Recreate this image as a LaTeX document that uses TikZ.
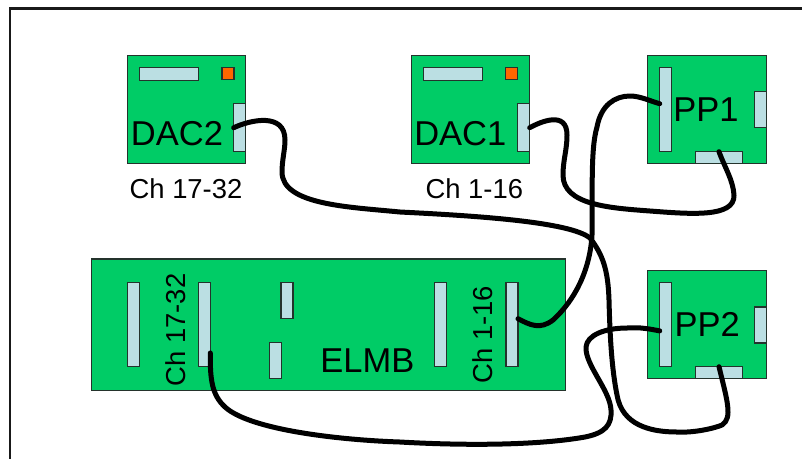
\documentclass[tikz,border=0pt]{standalone}
\usepackage{xcolor}
\usepackage{fontspec}
\setmainfont{Liberation Sans}
\definecolor{BRDgreen}{HTML}{00CC66}
\definecolor{BRDport}{HTML}{BBDFE3}
\definecolor{BRDled}{HTML}{FF6600}
\definecolor{BRDline}{HTML}{24332C}
\tikzset{
  board/.style={draw=BRDline, fill=BRDgreen, line width=1.1pt, inner sep=0pt, outer sep=0pt},
  dacbox/.style={board, minimum width=118.6pt, minimum height=108pt},
  elmbbox/.style={board, minimum width=473.6pt, minimum height=131.6pt},
  port/.style={draw=BRDline, fill=BRDport, line width=1.1pt, inner sep=0pt, outer sep=0pt},
  longport/.style={port, minimum width=12pt, minimum height=84pt},
  midport/.style={port, minimum width=12pt, minimum height=36pt},
  sideport/.style={port, minimum width=12pt, minimum height=48pt},
  topport/.style={port, minimum width=59.6pt, minimum height=12.3pt},
  lowport/.style={port, minimum width=47.4pt, minimum height=12pt},
  ledbox/.style={draw=BRDline, fill=BRDled, line width=1.1pt, inner sep=0pt, outer sep=0pt, minimum size=12pt},
  bigtext/.style={font=\fontsize{34.5}{36}\selectfont, inner sep=0pt, anchor=base},
  chtext/.style={font=\fontsize{27.4}{29}\selectfont, inner sep=0pt, anchor=base},
  cable/.style={line width=5pt, line cap=round, line join=round, black}
}

\begin{document}
\begin{tikzpicture}[x=1pt, y=-1pt]
\useasboundingbox (0,0) rectangle (802,459);
\draw[line width=2.3pt, black!90] (802,8.5) -- (9.8,8.5) -- (9.8,459);
% boards
\node[dacbox] (dactwo) at (186.5,109.8) {};
\node[dacbox] (dacone) at (470.4,109.8) {};
\node[dacbox] (ppone) at (707,109.8) {};
\node[dacbox] (pptwo) at (707,324.6) {};
\node[elmbbox] (elmb) at (328.5,324.8) {};
% ports
\node[topport] (dactwotop) at (168.9,73.9) {};
\node[ledbox] (dactwoled) at (228,73.9) {};
\node[sideport] (dactwoside) at (239.7,127.7) {};
\node[topport] (daconetop) at (452.9,73.9) {};
\node[ledbox] (daconeled) at (511.9,73.9) {};
\node[sideport] (daconeside) at (523.7,127.7) {};
\node[longport] (pponeleft) at (665.7,109.7) {};
\node[midport, minimum height=35.6pt] (pponeright) at (760.3,109.5) {};
\node[lowport] (pponelow) at (719,157.7) {};
\node[longport] (pptwoleft) at (665.7,324.9) {};
\node[midport] (pptworight) at (760.3,325) {};
\node[lowport] (pptwolow) at (719,372.7) {};
\node[longport] (elmba) at (133.3,324.7) {};
\node[longport] (elmbb) at (204.3,324.7) {};
\node[midport] (elmbc) at (287,300.8) {};
\node[midport] (elmbd) at (275.3,360.7) {};
\node[longport] (elmbe) at (440.8,324.7) {};
\node[longport] (elmbf) at (512,324.7) {};
% labels
\node[bigtext] (dactwolabel) at (177,145.7) {DAC2};
\node[bigtext] (daconelabel) at (460.3,145.7) {DAC1};
\node[bigtext] (ppx) at (706,121.7) {PP1};
\node[bigtext] (ppy) at (707.3,336.7) {PP2};
\node[bigtext] (elmblabel) at (367.4,372.7) {ELMB};
\node[chtext] (chtwo) at (186,198) {Ch 17-32};
\node[chtext] (chone) at (474.3,198) {Ch 1-16};
\node[chtext, rotate=90] (chtwoelmb) at (185.7,330) {Ch 17-32};
\node[chtext, rotate=90] (choneelmb) at (492.7,334.7) {Ch 1-16};
% cables
\draw[cable] (dactwoside.west) .. controls (250,120) and (285,112) .. (285,140)
  .. controls (285,150) and (282,160) .. (282,172)
  .. controls (282,205) and (350,207) .. (400,212)
  .. controls (480,216) and (570,222) .. (590,238)
  .. controls (603,255) and (608,270) .. (609,300)
  .. controls (610,340) and (612,370) .. (617,395)
  .. controls (622,425) and (650,432) .. (677,432)
  .. controls (695,433) and (715,428) .. (722,425)
  .. controls (733,418) and (727,400) .. (pptwolow.north);
\draw[cable] (daconeside.east) .. controls (540,122) and (567,110) .. (567,135)
  .. controls (567,150) and (563,160) .. (563,175)
  .. controls (563,205) and (610,208) .. (650,211)
  .. controls (690,214) and (735,218) .. (734,195)
  .. controls (733,180) and (725,168) .. (pponelow.north);
\draw[cable] (elmbf.45) .. controls (530,325) and (540,330) .. (553,320)
  .. controls (575,300) and (590,270) .. (592,235)
  .. controls (593,200) and (590,150) .. (597,127)
  .. controls (601,105) and (615,96) .. (630,96)
  .. controls (640,96) and (650,101) .. (pponeleft.135);
\draw[cable] (elmbb.-78) .. controls (210,380) and (212,395) .. (225,407)
  .. controls (250,430) and (340,440) .. (400,442)
  .. controls (470,446) and (540,445) .. (585,437)
  .. controls (605,433) and (612,425) .. (611,410)
  .. controls (610,390) and (585,365) .. (586,347)
  .. controls (587,335) and (605,328) .. (627,328)
  .. controls (640,327) and (650,329) .. (pptwoleft.225);
\end{tikzpicture}
\end{document}
